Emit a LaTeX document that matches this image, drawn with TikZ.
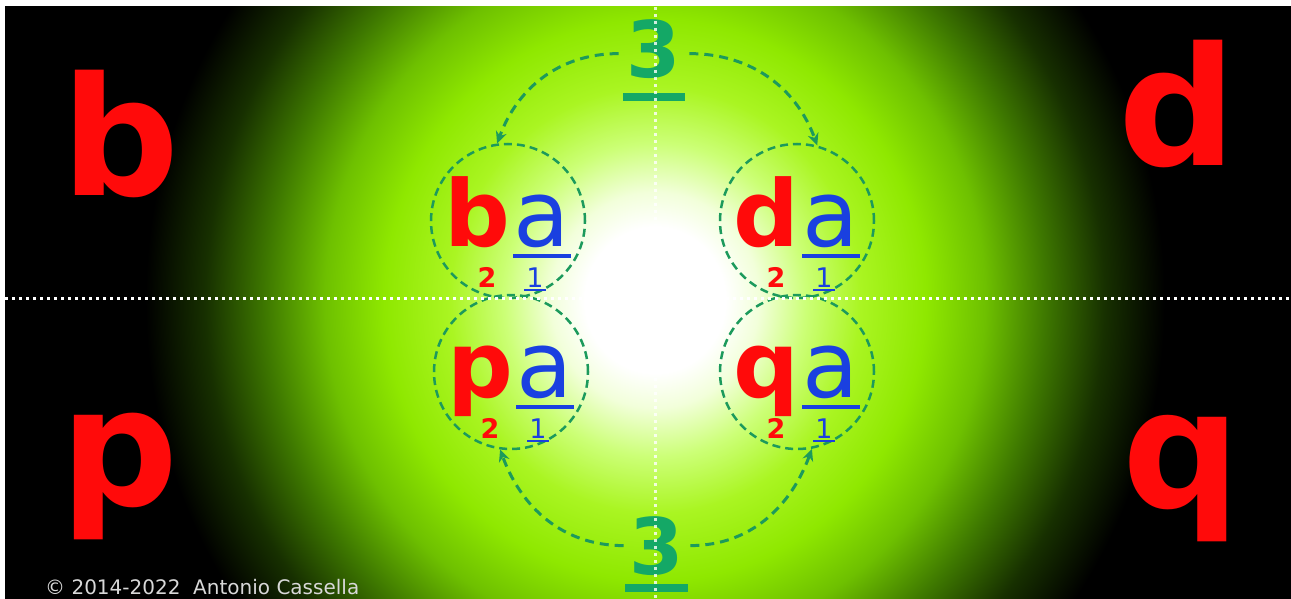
\documentclass[tikz,border=0pt]{standalone}
\usepackage{fontspec}
\setmainfont{DejaVu Sans}
\usetikzlibrary{calc, positioning}
\usetikzlibrary{arrows.meta}

\definecolor{letred}{HTML}{FF0A0A}
\definecolor{letblue}{HTML}{1A40E0}
\definecolor{threegreen}{HTML}{14A866}
\definecolor{dashgreen}{HTML}{1C9A5C}
\definecolor{notegray}{HTML}{D8D8D8}
\definecolor{glowA}{HTML}{F2FFDA}
\definecolor{glowB}{HTML}{CCFF77}
\definecolor{glowC}{HTML}{AAF522}
\definecolor{glowD}{HTML}{8FE800}
\definecolor{glowE}{HTML}{6EC000}
\definecolor{glowF}{HTML}{3E7800}
\definecolor{glowG}{HTML}{173000}

% the path box is the inner 50bp of the shading
\pgfdeclareradialshading{glow}{\pgfpoint{0bp}{0bp}}{%
  color(0bp)=(white); color(2.7bp)=(white); color(4bp)=(glowA);
  color(5.8bp)=(glowB); color(7.9bp)=(glowC); color(10.4bp)=(glowD);
  color(12.7bp)=(glowE); color(15bp)=(glowF); color(17.3bp)=(glowG);
  color(19.6bp)=(black); color(50bp)=(black)}

\tikzset{
  bigletter/.style={inner sep=0pt, text=letred, font=\fontsize{165}{165}\selectfont\bfseries},
  midletter/.style={inner sep=0pt, text=letred, font=\fontsize{92}{92}\selectfont\bfseries},
  vowel/.style={inner sep=0pt, text=letblue, font=\fontsize{92}{92}\selectfont},
  idxred/.style={inner sep=0pt, text=letred, font=\fontsize{27}{27}\selectfont\bfseries},
  idxblue/.style={inner sep=0pt, text=letblue, font=\fontsize{27}{27}\selectfont},
  numthree/.style={inner sep=0pt, text=threegreen, font=\fontsize{78}{78}\selectfont\bfseries},
  ring/.style={circle, draw=dashgreen, line width=2.5pt, dash pattern=on 8pt off 5pt,
    minimum size=154pt, inner sep=0pt},
  turnarc/.style={draw=dashgreen, line width=3pt, dash pattern=on 9pt off 6pt,
    -{Stealth[length=12pt, width=11pt]}},
  axisdots/.style={white, line width=3pt, dash pattern=on 3pt off 4pt},
}

\begin{document}
\begin{tikzpicture}[x=1pt, y=1pt]
\def\W{1291}
\def\H{599}
\def\gw{650}
\def\gh{675}

\useasboundingbox (0,0) rectangle (\W,-\H);
\fill[white] (0,0) rectangle (\W,-\H);
\fill[black] (5,-7) rectangle (\W,-\H);

% two lone points set the size of the glow, the rectangle cuts it
\shade[shading=glow] (655-\gw,-300+\gh) (655+\gw,-300-\gh) (5,-7) rectangle (\W,-\H);

\node[bigletter, anchor=base] (bigb) at (121,-196) {b};
\node[bigletter, anchor=base] (bigd) at (1178,-165) {d};
\node[bigletter, anchor=base] (bigp) at (120,-505) {p};
\node[bigletter, anchor=base] (bigq) at (1182,-507) {q};

\foreach \nm/\cx/\cy/\L in {tl/508/221/b, tr/797/221/d, bl/511/372/p, br/797/372/q} {
  \node[ring] (c\nm) at (\cx,-\cy) {};
  \node[midletter, anchor=base] (l\nm) at ($(c\nm)+(-31,-25)$) {\L};
  \node[vowel, anchor=base] (v\nm) at ($(c\nm)+(34,-25)$) {a};
  \draw[letblue, line width=4pt] ($(c\nm)+(5,-35)$) -- ($(c\nm)+(63,-35)$);
  \node[idxred, anchor=base] (n\nm) at ($(c\nm)+(-21,-66)$) {2};
  \node[idxblue, anchor=base] (m\nm) at ($(c\nm)+(27,-66)$) {1};
  \draw[letblue, line width=2pt] ($(m\nm.base west)+(-2,-3)$) -- ($(m\nm.base east)+(2,-3)$);
}

\node[numthree, anchor=base] (topthree) at (654,-78) {3};
\node[numthree, anchor=base] (botthree) at (657,-574) {3};
\draw[threegreen, line width=8pt] (623,-97) -- (685,-97);
\draw[threegreen, line width=8pt] (625,-588) -- (688,-588);

\draw[turnarc] ([xshift=-8pt, yshift=-4pt]topthree.west) to[out=180, in=70] (ctl.98);
\draw[turnarc] ([xshift=8pt, yshift=-4pt]topthree.east) to[out=0, in=110] (ctr.75);
\draw[turnarc] ([xshift=-6pt]botthree.west) to[out=180, in=-70] (cbl.262);
\draw[turnarc] ([xshift=6pt]botthree.east) to[out=0, in=-110] (cbr.281);

\draw[axisdots] (5,-298) -- (\W,-298);
\draw[axisdots, opacity=0.8] (655,-7) -- (655,-\H);

\node[anchor=base west, inner sep=0pt, text=notegray, font=\fontsize{20}{20}\selectfont]
  (credit) at (45,-594) {© 2014-2022\ \ Antonio Cassella};
\end{tikzpicture}
\end{document}
